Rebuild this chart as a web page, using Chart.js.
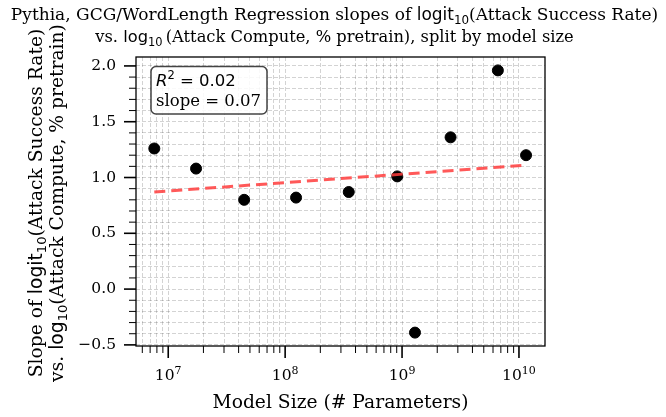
<!DOCTYPE html>
<html lang="en">
<head>
<meta charset="UTF-8">
<title>Pythia regression slopes</title>
<style>
  body { margin: 0; background: #fff; }
</style>
<script src="https://cdn.jsdelivr.net/npm/chart.js@4"></script>
</head>
<body>
<canvas id="chart" width="666" height="417"></canvas>
<script>
// values
const modelSizes = [7.6e6, 1.73e7, 4.46e7, 1.24e8, 3.5e8, 9.1e8, 1.29e9, 2.6e9, 6.6e9, 1.15e10];
const slopes = [1.26, 1.08, 0.80, 0.82, 0.87, 1.01, -0.39, 1.36, 1.96, 1.20];
const fitSizes = [7.6e6, 1.15e10];
const fitSlopes = [0.87, 1.11];
const xMajorTicks = [1e7, 1e8, 1e9, 1e10];
const xTickExponents = ['7', '8', '9', '10'];
const yTicks = [-0.5, 0, 0.5, 1, 1.5, 2];
const yTickLabels = ['\u22120.5', '0.0', '0.5', '1.0', '1.5', '2.0'];
const statR2 = '0.02';
const statSlope = '0.07';

const X_MIN = 5.3e6, X_MAX = 1.67e10;
const Y_MIN = -0.51, Y_MAX = 2.08;

const SERIF = '"DejaVu Serif", serif';
const SANS = '"DejaVu Sans", sans-serif';

// minor tick positions (only inside the axis range)
const xMinor = [];
for (let e = 6; e <= 10; e++) {
  for (let m = 2; m <= 9; m++) xMinor.push(m * Math.pow(10, e));
}
const xGrid = xMajorTicks.concat(xMinor)
  .filter(v => v > X_MIN && v < X_MAX)
  .sort((a, b) => a - b);
const yGrid = [];
for (let i = -5; i <= 20; i++) yGrid.push(i / 10);

function mathLine(pre, fn, post, size) {
  return [
    { t: pre, font: size + 'px ' + SERIF },
    { t: fn, font: size + 'px ' + SANS },
    { t: '10', font: (size * 0.7) + 'px ' + SANS, dy: size * 0.22 },
    { t: post, font: size + 'px ' + SERIF }
  ];
}

function drawRich(ctx, segs, x, y, align) {
  let w = 0;
  segs.forEach(s => { ctx.font = s.font; w += ctx.measureText(s.t).width; });
  if (align === 'center') x -= w / 2;
  segs.forEach(s => {
    ctx.font = s.font;
    ctx.fillText(s.t, x, y + (s.dy || 0));
    x += ctx.measureText(s.t).width;
  });
}

const decor = {
  id: 'decor',
  afterDraw(chart) {
    const ctx = chart.ctx;
    const a = chart.chartArea;
    const xs = chart.scales.x, ys = chart.scales.y;
    ctx.save();
    ctx.fillStyle = '#000';
    ctx.strokeStyle = '#000';
    ctx.textBaseline = 'alphabetic';

    // frame
    ctx.lineWidth = 1.3;
    ctx.strokeRect(a.left, a.top, a.right - a.left, a.bottom - a.top);

    // x ticks
    xGrid.forEach(v => {
      const px = xs.getPixelForValue(v);
      const major = xMajorTicks.includes(v);
      ctx.lineWidth = major ? 1.6 : 1;
      ctx.beginPath();
      ctx.moveTo(px, a.bottom);
      ctx.lineTo(px, a.bottom + (major ? 12 : 7));
      ctx.stroke();
    });
    // y ticks
    yGrid.forEach(v => {
      const py = ys.getPixelForValue(v);
      const major = yTicks.some(t => Math.abs(t - v) < 1e-9);
      ctx.lineWidth = major ? 1.6 : 1;
      ctx.beginPath();
      ctx.moveTo(a.left, py);
      ctx.lineTo(a.left - (major ? 12 : 7), py);
      ctx.stroke();
    });

    // x tick labels
    xMajorTicks.forEach((v, i) => {
      const px = xs.getPixelForValue(v);
      drawRich(ctx, [
        { t: '10', font: '15.5px ' + SERIF },
        { t: xTickExponents[i], font: '11px ' + SERIF, dy: -6.5 }
      ], px, 380, 'center');
    });
    // y tick labels
    ctx.font = '15.5px ' + SERIF;
    ctx.textAlign = 'right';
    ctx.textBaseline = 'middle';
    yTicks.forEach((v, i) => {
      ctx.fillText(yTickLabels[i], a.left - 20, ys.getPixelForValue(v));
    });
    ctx.textAlign = 'left';
    ctx.textBaseline = 'alphabetic';

    // title
    const cx = (a.left + a.right) / 2;
    drawRich(ctx, mathLine('Pythia, GCG/WordLength Regression slopes of ', 'logit', '(Attack Success Rate)', 17), cx - 6, 20, 'center');
    drawRich(ctx, mathLine('vs. ', 'log', '\u2009(Attack Compute, % pretrain), split by model size', 16.3), cx - 6, 42, 'center');

    // x axis title
    ctx.font = '18.7px ' + SERIF;
    ctx.textAlign = 'center';
    ctx.fillText('Model Size (# Parameters)', cx, 408);
    ctx.textAlign = 'left';

    // y axis title
    ctx.save();
    ctx.translate(0, 203);
    ctx.rotate(-Math.PI / 2);
    drawRich(ctx, mathLine('Slope of ', 'logit', '(Attack Success Rate)', 18.7), 0, 42, 'center');
    drawRich(ctx, mathLine('vs. ', 'log', '(Attack Compute, % pretrain)', 18.7), 0, 63, 'center');
    ctx.restore();

    // stats box
    ctx.beginPath();
    ctx.roundRect(151, 66.5, 116, 47.5, 5);
    ctx.fillStyle = 'rgba(255,255,255,0.85)';
    ctx.fill();
    ctx.lineWidth = 1.5;
    ctx.strokeStyle = '#444';
    ctx.stroke();
    ctx.fillStyle = '#000';
    drawRich(ctx, [
      { t: 'R', font: 'italic 16.5px ' + SANS },
      { t: '2', font: '11.5px ' + SANS, dy: -7 },
      { t: ' = ' + statR2, font: '16.5px ' + SANS }
    ], 156, 86);
    ctx.font = '16.5px ' + SERIF;
    ctx.fillText('slope = ' + statSlope, 156, 106);
    ctx.restore();
  }
};

new Chart(document.getElementById('chart'), {
  type: 'scatter',
  data: {
    datasets: [
      {
        type: 'line',
        data: fitSizes.map((x, i) => ({ x: x, y: fitSlopes[i] })),
        borderColor: 'rgba(255, 60, 60, 0.85)',
        borderWidth: 3,
        borderDash: [11, 6],
        pointRadius: 0,
        fill: false
      },
      {
        data: modelSizes.map((x, i) => ({ x: x, y: slopes[i] })),
        backgroundColor: '#000',
        borderColor: '#000',
        pointRadius: 5.5,
        pointHoverRadius: 5.5
      }
    ]
  },
  options: {
    responsive: false,
    animation: false,
    events: [],
    layout: { padding: { left: 0, top: 57, right: 121, bottom: 0 } },
    plugins: { legend: { display: false }, tooltip: { enabled: false } },
    scales: {
      x: {
        type: 'logarithmic',
        min: X_MIN,
        max: X_MAX,
        afterBuildTicks: s => { s.ticks = xGrid.map(v => ({ value: v })); },
        afterFit: s => { s.height = 71; },
        ticks: { display: false },
        grid: { color: 'rgba(0,0,0,0.22)', lineWidth: 0.8, drawTicks: false, borderDash: [4, 2] },
        border: { display: false, dash: [4, 2] }
      },
      y: {
        min: Y_MIN,
        max: Y_MAX,
        afterBuildTicks: s => { s.ticks = yGrid.map(v => ({ value: v })); },
        afterFit: s => { s.width = 136; },
        ticks: { display: false },
        grid: { color: 'rgba(0,0,0,0.22)', lineWidth: 0.8, drawTicks: false, borderDash: [4, 2] },
        border: { display: false, dash: [4, 2] }
      }
    }
  },
  plugins: [decor]
});
</script>
</body>
</html>
